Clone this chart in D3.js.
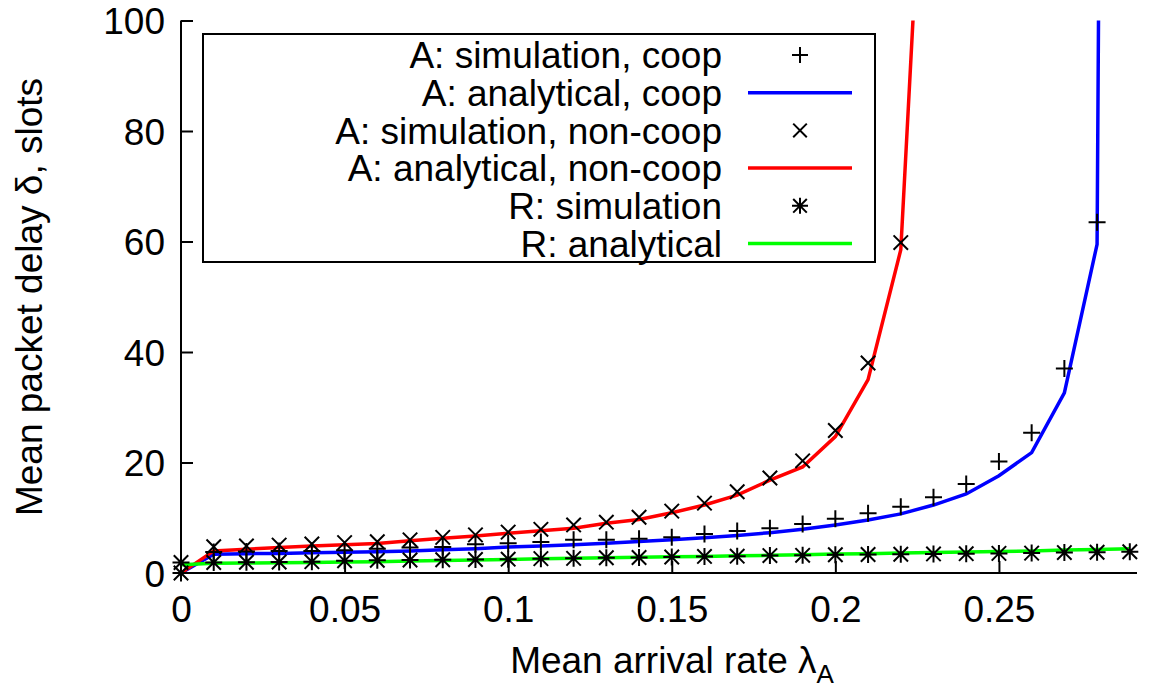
<!DOCTYPE html>
<html>
<head>
<meta charset="utf-8">
<script src="https://cdn.jsdelivr.net/npm/d3@7"></script>
<style>
  html, body { margin: 0; padding: 0; background: #fff; }
  svg { display: block; }
  text { font-family: "Liberation Sans", Arial, Helvetica, sans-serif; fill: #000; }
</style>
</head>
<body>
<svg id="chart" width="1152" height="688"></svg>
<script>
// ---- data ----
const lambda = [0, 0.01, 0.02, 0.03, 0.04, 0.05, 0.06, 0.07, 0.08, 0.09,
                0.10, 0.11, 0.12, 0.13, 0.14, 0.15, 0.16, 0.17, 0.18, 0.19,
                0.20, 0.21, 0.22, 0.23, 0.24, 0.25, 0.26, 0.27, 0.28, 0.29];

// A: simulation, coop (+), lambda 0 .. 0.28
const simCoop = [0, 3.8, 3.9, 4.0, 4.0, 4.1, 4.4, 4.6, 4.7, 5.2,
                 5.4, 5.6, 6.0, 6.0, 6.2, 6.45, 7.05, 7.6, 8.1, 8.85,
                 9.8, 10.8, 12.0, 13.7, 16.1, 20.2, 25.4, 37.0, 63.5];
// A: analytical, coop (blue), lambda 0 .. 0.29
const anCoop = [0, 3.4, 3.5, 3.55, 3.65, 3.75, 3.85, 4.0, 4.2, 4.4,
                4.7, 4.9, 5.1, 5.4, 5.7, 6.0, 6.4, 6.8, 7.3, 7.9,
                8.7, 9.6, 10.7, 12.3, 14.3, 17.6, 21.8, 32.6, 59.5, 1000];
// A: simulation, non-coop (x), lambda 0 .. 0.22
const simNonCoop = [0, 4.75, 4.9, 5.05, 5.25, 5.5, 5.65, 6.0, 6.45, 6.9,
                    7.4, 7.9, 8.7, 9.2, 10.1, 11.2, 12.65, 14.7, 17.2, 20.3,
                    25.8, 38.0, 59.8];
// A: analytical, non-coop (red), lambda 0 .. 0.23
const anNonCoop = [0, 4.0, 4.3, 4.6, 4.9, 5.1, 5.35, 5.85, 6.3, 6.7,
                   7.2, 7.65, 8.1, 9.0, 9.7, 10.9, 12.3, 14.1, 16.8, 19.2,
                   24.7, 35.0, 58.5, 170];
// R: simulation (asterisk), lambda 0 .. 0.29
const simR = [1.9, 1.9, 1.95, 2.0, 2.05, 2.2, 2.3, 2.35, 2.4, 2.45,
              2.5, 2.6, 2.65, 2.75, 2.8, 2.9, 3.0, 3.05, 3.15, 3.2,
              3.3, 3.35, 3.4, 3.45, 3.5, 3.55, 3.6, 3.7, 3.75, 3.85];
// R: analytical (green), lambda 0 .. 0.29
const anR = [1.5, 1.75, 1.8, 1.85, 1.9, 2.0, 2.05, 2.15, 2.25, 2.35,
             2.45, 2.6, 2.65, 2.75, 2.85, 2.95, 3.0, 3.1, 3.2, 3.3,
             3.45, 3.5, 3.6, 3.7, 3.8, 3.9, 4.0, 4.15, 4.25, 4.4];

const xTicks = [0, 0.05, 0.1, 0.15, 0.2, 0.25];
const xTickLabels = ["0", "0.05", "0.1", "0.15", "0.2", "0.25"];
const yTicks = [0, 20, 40, 60, 80, 100];

const legendLabels = ["A: simulation, coop", "A: analytical, coop", "A: simulation, non-coop",
                      "A: analytical, non-coop", "R: simulation", "R: analytical"];

// ---- layout ----
const svg = d3.select("#chart");
const X0 = 181, X1 = 1137, Y0 = 573, Y1 = 20.5;
const x = d3.scaleLinear().domain([0, 0.2922]).range([X0, X1]);
const y = d3.scaleLinear().domain([0, 100]).range([Y0, Y1]);
const FS = 37;

svg.append("defs").append("clipPath").attr("id", "plotclip")
  .append("rect").attr("x", X0).attr("y", Y1).attr("width", X1 - X0).attr("height", Y0 - Y1);

// axes (ticks inward, like gnuplot)
const xAxis = d3.axisBottom(x).tickValues(xTicks).tickSize(-12).tickPadding(0)
  .tickFormat((d, i) => xTickLabels[i]);
const gx = svg.append("g").attr("transform", `translate(0,${Y0})`).call(xAxis);
gx.select(".domain").remove();
gx.selectAll(".tick line").attr("stroke", "#000").attr("stroke-width", 2);
gx.selectAll(".tick text").attr("font-size", FS).attr("y", 49).attr("dy", 0)
  .attr("font-family", "Liberation Sans, Arial, sans-serif");

const yAxis = d3.axisLeft(y).tickValues(yTicks).tickSize(-12).tickPadding(16);
const gy = svg.append("g").attr("transform", `translate(${X0},0)`).call(yAxis);
gy.select(".domain").remove();
gy.selectAll(".tick line").attr("stroke", "#000").attr("stroke-width", 2);
gy.selectAll(".tick text").attr("font-size", FS).attr("dy", "0.36em")
  .attr("font-family", "Liberation Sans, Arial, sans-serif");
gy.selectAll(".tick").filter(d => d === 0).select("line").remove();
gx.selectAll(".tick").filter(d => d === 0).select("line").remove();

svg.append("line").attr("x1", X0).attr("x2", X0).attr("y1", Y1).attr("y2", Y0)
  .attr("stroke", "#000").attr("stroke-width", 2);
svg.append("line").attr("x1", X0).attr("x2", X1).attr("y1", Y0).attr("y2", Y0)
  .attr("stroke", "#000").attr("stroke-width", 2);

// axis titles
svg.append("text").attr("transform", `translate(42,${297}) rotate(-90)`)
  .attr("text-anchor", "middle").attr("font-size", FS)
  .text("Mean packet delay δ, slots");
const xl = svg.append("text").attr("x", 672).attr("y", 673)
  .attr("text-anchor", "middle").attr("font-size", FS);
xl.append("tspan").text("Mean arrival rate λ");
xl.append("tspan").attr("font-size", 26).attr("dy", 10).text("A");

// markers
function markerPath(type, s) {
  const h = s / 2, d = s / 2 * 0.85;
  const plus = `M${-h},0L${h},0M0,${-h}L0,${h}`;
  const cross = `M${-d},${-d}L${d},${d}M${-d},${d}L${d},${-d}`;
  if (type === "plus") return plus;
  if (type === "cross") return cross;
  return plus + cross;
}

const plot = svg.append("g").attr("clip-path", "url(#plotclip)");
const line = d3.line().x(d => x(d[0])).y(d => y(d[1]));

function drawPoints(vals, type) {
  svg.append("g").selectAll("path").data(vals.map((v, i) => [lambda[i], v]))
    .join("path")
    .attr("transform", d => `translate(${x(d[0])},${y(d[1])})`)
    .attr("d", markerPath(type, 17))
    .attr("stroke", "#000").attr("stroke-width", 2).attr("fill", "none");
}
function drawLine(vals, color) {
  plot.append("path").datum(vals.map((v, i) => [lambda[i], v]))
    .attr("d", line).attr("fill", "none").attr("stroke", color)
    .attr("stroke-width", 3.5).attr("stroke-linejoin", "miter");
}

drawPoints(simCoop, "plus");
drawLine(anCoop, "#0000ff");
drawPoints(simNonCoop, "cross");
drawLine(anNonCoop, "#ff0000");
drawPoints(simR, "star");
drawLine(anR, "#00ff00");

// legend
const lg = svg.append("g");
lg.append("rect").attr("x", 203).attr("y", 34).attr("width", 672).attr("height", 228)
  .attr("fill", "#fff").attr("stroke", "#000").attr("stroke-width", 2);
const legendItems = [
  {kind: "plus"}, {kind: "line", color: "#0000ff"}, {kind: "cross"},
  {kind: "line", color: "#ff0000"}, {kind: "star"}, {kind: "line", color: "#00ff00"}
];
legendLabels.forEach((lab, i) => {
  const ry = 55 + i * 37.7;
  lg.append("text").attr("x", 722).attr("y", ry).attr("dy", "0.36em")
    .attr("text-anchor", "end").attr("font-size", FS).text(lab);
  const it = legendItems[i];
  if (it.kind === "line") {
    lg.append("line").attr("x1", 748).attr("x2", 852).attr("y1", ry).attr("y2", ry)
      .attr("stroke", it.color).attr("stroke-width", 3.5);
  } else {
    lg.append("path").attr("transform", `translate(800,${ry})`)
      .attr("d", markerPath(it.kind, 16)).attr("stroke", "#000")
      .attr("stroke-width", 2).attr("fill", "none");
  }
});
</script>
</body>
</html>
